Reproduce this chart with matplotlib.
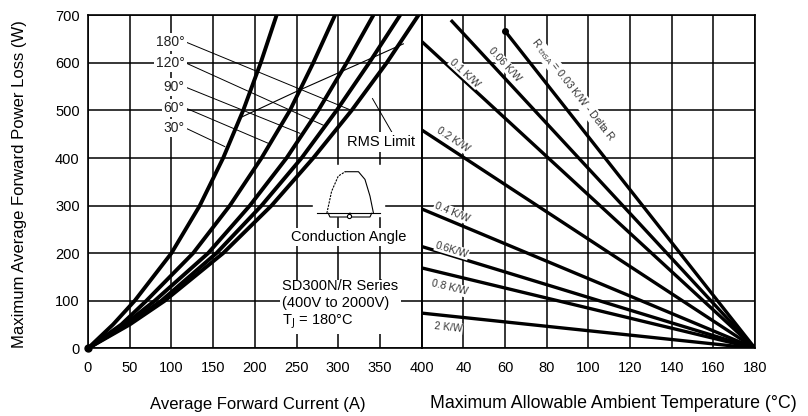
import numpy as np
import matplotlib
matplotlib.use("Agg")
import matplotlib.pyplot as plt

plt.rcParams['font.family'] = ['Liberation Sans', 'DejaVu Sans']

# ---------------- data ----------------
# Left panel: power loss vs average forward current, per conduction angle
power_levels = [0, 50, 100, 200, 300, 400, 500, 600, 700]
cur_30 = [0, 30, 56, 100, 134, 162, 186, 207, 226]
cur_60 = [0, 40, 70, 126, 170, 208, 242, 270, 296]
cur_90 = [0, 44, 80, 144, 194, 238, 276, 310, 342]
cur_120 = [0, 47, 88, 154, 208, 256, 298, 337, 374]
cur_180 = [0, 50, 92, 162, 220, 270, 316, 358, 396]
angle_labels = ['180°', '120°', '90°', '60°', '30°']
angle_curves = [cur_180, cur_120, cur_90, cur_60, cur_30]

# RMS limit line (current, power)
rms_current = [184, 250, 322, 378]
rms_power = [486, 540, 596, 640]

# Right panel: heatsink thermal resistance lines (start point -> 180 °C, 0 W)
rth_labels = [r'R $_{\mathrm{thSA}}$ = 0.03 K/W - Delta R', '0.06 K/W', '0.1 K/W',
              '0.2 K/W', '0.4 K/W', '0.6K/W', '0.8 K/W', '2 K/W']
rth_start_temp = [60, 34, 20, 20, 20, 20, 20, 20]
rth_start_power = [667, 690, 645, 459, 293, 214, 169, 74]
rth_end_temp = 180
rth_end_power = 0

left_ticks = [0, 50, 100, 150, 200, 250, 300, 350, 400]
right_ticks = [20, 40, 60, 80, 100, 120, 140, 160, 180]
y_ticks = [0, 100, 200, 300, 400, 500, 600, 700]

# ---------------- figure ----------------
fig = plt.figure(figsize=(8.08, 4.16), dpi=100)
W, H = 808, 416
x0, xm, x1 = 88, 421.7, 755
yb, yt = 348.3, 15.3
ax1 = fig.add_axes([x0 / W, 1 - yb / H, (xm - x0) / W, (yb - yt) / H])
ax2 = fig.add_axes([xm / W, 1 - yb / H, (x1 - xm) / W, (yb - yt) / H])

for ax in (ax1, ax2):
    ax.set_ylim(0, 700)
    ax.set_yticks(y_ticks)
    ax.grid(True, color='black', linewidth=1.1, zorder=0)
    ax.set_axisbelow(True)
    for s in ax.spines.values():
        s.set_linewidth(1.2)
        s.set_zorder(5)
    ax.tick_params(length=0, labelsize=10.5)
    ax.tick_params(axis='x', pad=9)
    ax.tick_params(axis='y', pad=6)

ax1.set_xlim(0, 400)
ax1.set_xticks(left_ticks)
ax2.set_xlim(20, 180)
ax2.set_xticks(right_ticks)
ax2.set_xticklabels([''] + [str(t) for t in right_ticks[1:]])
ax2.tick_params(axis='y', labelleft=False)

# curves
for cur in angle_curves:
    ax1.plot(cur, power_levels, color='black', lw=2.8, solid_capstyle='round',
             solid_joinstyle='round', zorder=3)
ax1.plot([0], [0], marker='o', ms=5, color='black', zorder=3, clip_on=False)

ax1.plot(rms_current, rms_power, color='black', lw=0.8, zorder=3)

# angle labels and leaders
label_power = [644, 600, 549, 505, 463]
leader_end = [(316, 500), (282, 469), (254, 452), (216, 431), (164, 424)]
for lab, lp, (ex, ey) in zip(angle_labels, label_power, leader_end):
    ax1.text(116, lp, lab, ha='right', va='center', fontsize=10, color='#222222',
             bbox=dict(facecolor='white', edgecolor='none', pad=1.5), zorder=4)
    ax1.plot([117, ex], [lp, ey], color='black', lw=0.7, zorder=3)

ax1.text(351, 434, 'RMS Limit', ha='center', va='center', fontsize=10.5,
         bbox=dict(facecolor='white', edgecolor='none', pad=2), zorder=4)
ax1.plot([364, 341], [455, 525], color='black', lw=0.7, zorder=3)

# conduction angle icon
icon_x = [286.3, 292, 300, 308.3, 324.2, 332, 338, 342.2]
icon_y = [283.8, 330, 362, 371.2, 371.2, 355, 320, 283.8]
ax1.fill_between([270, 355], 278, 385, color='white', zorder=2)
ax1.plot(icon_x[:4], icon_y[:4], color='black', lw=0.8, ls=(0, (2, 1)), zorder=3)
ax1.plot(icon_x[3:], icon_y[3:], color='black', lw=0.8, zorder=3)
ax1.plot([274.3, 350.2], [283.8, 283.8], color='black', lw=0.8, zorder=3)
ax1.plot([288, 290, 312, 314], [283.8, 276, 276, 283.8], color='black', lw=0.8, zorder=3)
ax1.plot([314, 316, 338, 340], [283.8, 276, 276, 283.8], color='black', lw=0.8, zorder=3)
ax1.plot([313], [279], marker='o', ms=3, mfc='white', mec='black', mew=0.8, zorder=3)

ax1.text(312, 234, 'Conduction Angle', ha='center', va='center', fontsize=10.5,
         bbox=dict(facecolor='white', edgecolor='none', pad=1.5), zorder=4)
ax1.text(233, 91, 'SD300N/R Series\n(400V to 2000V)\nT$_{\\mathrm{J}}$ = 180°C',
         ha='left', va='center', fontsize=10.5, linespacing=1.25,
         bbox=dict(facecolor='white', edgecolor='none', pad=2), zorder=4)

# right panel lines
fig.canvas.draw()
label_pos = [(92.6, 543), (60, 596), (40.8, 579), (35, 438), (34.5, 286),
             (34.5, 207), (33.6, 127), (32.6, 43)]
for i, (lab, st, sp) in enumerate(zip(rth_labels, rth_start_temp, rth_start_power)):
    ax2.plot([st, rth_end_temp], [sp, rth_end_power], color='black', lw=2.4,
             solid_capstyle='butt', zorder=3)
    p0 = ax2.transData.transform((st, sp))
    p1 = ax2.transData.transform((rth_end_temp, rth_end_power))
    ang = np.degrees(np.arctan2(p1[1] - p0[1], p1[0] - p0[0]))
    tx, ty = label_pos[i]
    ax2.text(tx, ty, lab, ha='center', va='center', fontsize=7.5, color='#333333',
             rotation=ang, rotation_mode='anchor',
             bbox=dict(facecolor='white', edgecolor='none', pad=0.5), zorder=4)
ax2.plot([rth_start_temp[0]], [rth_start_power[0]], marker='o', ms=4, color='black', zorder=3)

# axis labels
fig.text(258 / W, 1 - 404 / H, 'Average Forward Current (A)', ha='center', va='center', fontsize=12)
fig.text(613 / W, 1 - 404 / H, 'Maximum Allowable Ambient Temperature (°C)', ha='center',
         va='center', fontsize=12.8)
fig.text(20 / W, 1 - 184 / H, 'Maximum Average Forward Power Loss (W)', ha='center',
         va='center', rotation=90, fontsize=12)

fig.savefig('out.png', dpi=100)
